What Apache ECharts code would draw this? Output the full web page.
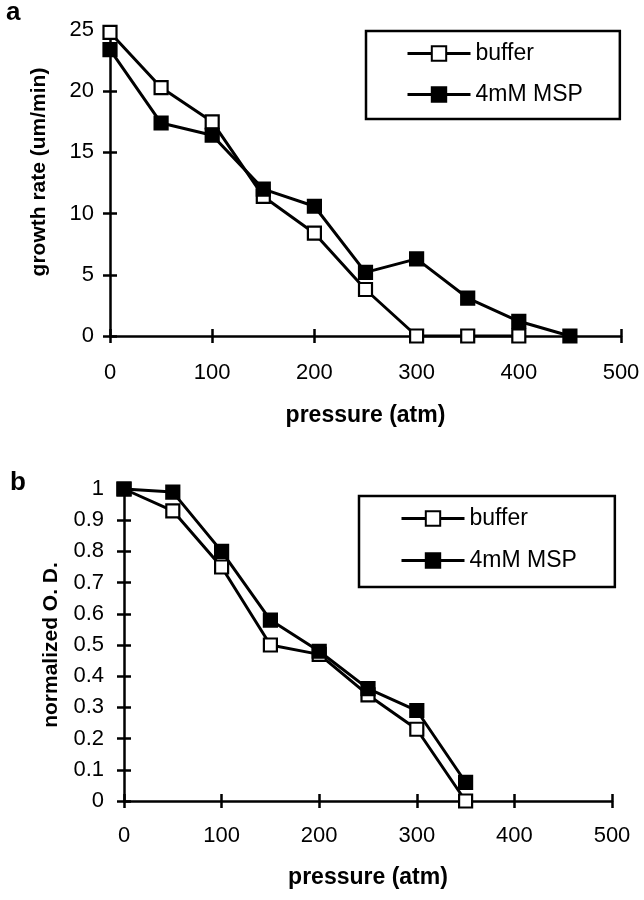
<!DOCTYPE html>
<html>
<head>
<meta charset="utf-8">
<script src="https://cdn.jsdelivr.net/npm/echarts@6/dist/echarts.min.js"></script>
<style>html,body{margin:0;padding:0;background:#fff}#c{width:644px;height:900px}</style>
</head>
<body>
<div id="c"></div>
<script>
// Panel a: growth rate vs pressure
const pressureA = [0, 50, 100, 150, 200, 250, 300, 350, 400, 450];
const growthBuffer = [24.8, 20.3, 17.5, 11.4, 8.4, 3.8, 0, 0, 0, null];
const growthMSP = [23.4, 17.4, 16.4, 12.0, 10.6, 5.2, 6.3, 3.1, 1.2, 0];
// Panel b: normalized O.D. vs pressure
const pressureB = [0, 50, 100, 150, 200, 250, 300, 350];
const odBuffer = [1.0, 0.93, 0.75, 0.50, 0.47, 0.34, 0.23, 0.0];
const odMSP = [1.0, 0.99, 0.80, 0.58, 0.48, 0.36, 0.29, 0.06];
const seriesNames = ['buffer', '4mM MSP'];

const FONT = 'Liberation Sans';
const pairs = (xs, ys) => xs.map((x, i) => [x, ys[i]]).filter(p => p[1] !== null);

const chart = echarts.init(document.getElementById('c'));

function xAx(grid, gap, margin, main) {
  return {
    type: 'value', gridIndex: grid, min: 0, max: 500, interval: 100,
    position: 'bottom', offset: 0,
    name: main ? 'pressure (atm)' : '', nameLocation: 'middle', nameGap: gap,
    nameTextStyle: {fontFamily: FONT, fontWeight: 'bold', fontSize: 23, color: '#000'},
    axisLine: {show: main, onZero: false, lineStyle: {color: '#000', width: 2.5}},
    axisTick: {show: true, inside: !main, length: 7, lineStyle: {color: '#000', width: 2.5}},
    axisLabel: {show: main, margin: margin, fontFamily: FONT, fontSize: 22, color: '#000'},
    splitLine: {show: false}
  };
}
function yAx(grid, min, max, interval, name, gap, margin, main, pad) {
  return {
    type: 'value', gridIndex: grid, min: min, max: max, interval: interval,
    position: 'left', offset: 0,
    name: main ? name : '', nameLocation: 'middle', nameGap: gap,
    nameTextStyle: {fontFamily: FONT, fontWeight: 'bold', fontSize: 21, color: '#000', padding: pad || 0},
    axisLine: {show: main, onZero: false, lineStyle: {color: '#000', width: 2.5}},
    axisTick: {show: true, inside: !main, length: 7, lineStyle: {color: '#000', width: 2.5}},
    axisLabel: {show: main, margin: margin, fontFamily: FONT, fontSize: 22, color: '#000'},
    splitLine: {show: false}
  };
}

function lineSeries(name, xi, yi, data, filled) {
  return {
    name: name, type: 'line', xAxisIndex: xi, yAxisIndex: yi,
    data: data, symbol: 'rect', symbolSize: 13,
    lineStyle: {color: '#000', width: 3},
    itemStyle: {color: filled ? '#000' : '#fff', borderColor: '#000', borderWidth: 2.2},
    emphasis: {disabled: true}, animation: false
  };
}

function legend(left, top, padding, gap) {
  return {
    data: seriesNames, orient: 'vertical', left: left, top: top,
    padding: padding, itemGap: gap, itemWidth: 63, itemHeight: 18,
    borderColor: '#000', borderWidth: 2.5,
    lineStyle: {width: 3, color: '#000'},
    textStyle: {fontFamily: FONT, fontSize: 23, color: '#000', lineHeight: 20},
    selectedMode: false
  };
}

chart.setOption({
  animation: false,
  backgroundColor: '#fff',
  grid: [
    {left: 110, top: 30, width: 511, height: 306},
    {left: 124, top: 489, width: 488, height: 312}
  ],
  xAxis: [xAx(0, 68, 26, true), xAx(1, 65, 24, true), xAx(0, 0, 0, false), xAx(1, 0, 0, false)],
  yAxis: [
    yAx(0, 0, 25, 5, 'growth rate (um/min)', 60, 16, true, [0, 0, 0, 22]),
    yAx(1, 0, 1, 0.1, 'normalized O. D.', 62, 20, true),
    yAx(0, 0, 25, 5, '', 0, 0, false),
    yAx(1, 0, 1, 0.1, '', 0, 0, false)
  ],
  legend: [legend(366, 31, [11, 37, 13, 40], 18), legend(359, 496, [11, 38, 15, 41], 19)],
  graphic: [
    {type: 'text', left: 6, top: 0, style: {text: 'a', font: 'bold 26px "Liberation Sans"', fill: '#000'}},
    {type: 'text', left: 10, top: 470, style: {text: 'b', font: 'bold 26px "Liberation Sans"', fill: '#000'}}
  ],
  series: [
    lineSeries(seriesNames[0], 0, 0, pairs(pressureA, growthBuffer), false),
    lineSeries(seriesNames[1], 0, 0, pairs(pressureA, growthMSP), true),
    lineSeries(seriesNames[0], 1, 1, pairs(pressureB, odBuffer), false),
    lineSeries(seriesNames[1], 1, 1, pairs(pressureB, odMSP), true)
  ]
});
</script>
</body>
</html>
